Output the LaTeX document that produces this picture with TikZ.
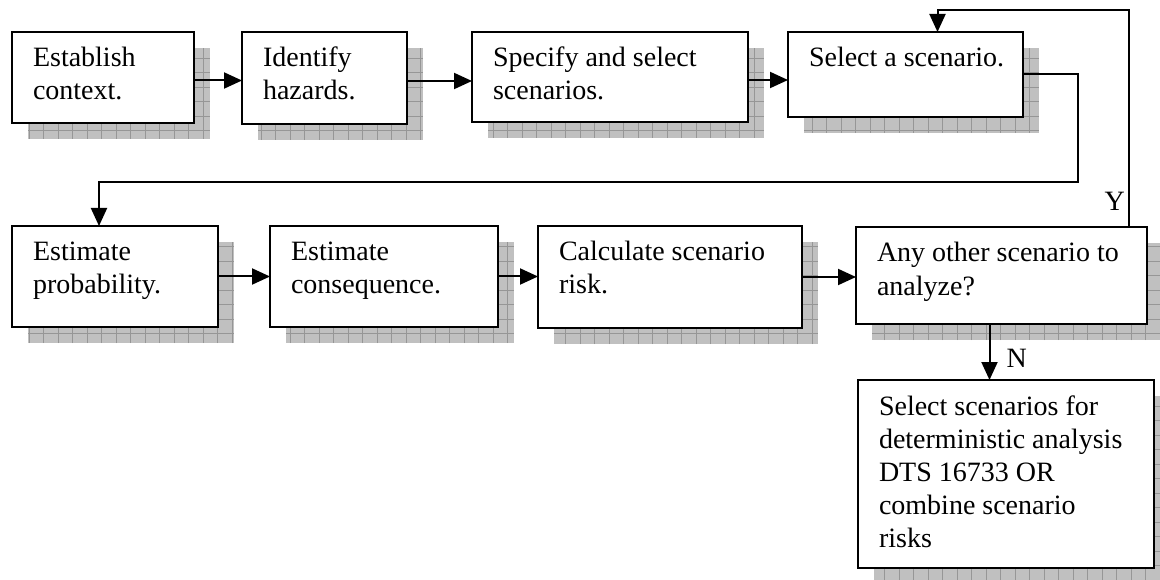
\documentclass[tikz,border=0pt]{standalone}
\usepackage{fontspec}
\setmainfont{Liberation Serif}
\usetikzlibrary{arrows.meta}
\pgfdeclarelayer{background}
\pgfsetlayers{background,main}
\definecolor{shadowgray}{RGB}{192,192,192}
\definecolor{gridgray}{RGB}{150,150,150}
% box text: width, height, text
\newcommand{\proctext}[3]{\hspace*{21pt}\parbox[t][#2][t]{\dimexpr#1-21pt\relax}{\raggedright\rule{0pt}{35pt}#3}}
\tikzset{
	procbox/.style={draw, line width=2.8pt, fill=white, anchor=north west, inner sep=0pt, outer sep=0pt, font=\fontsize{28}{33}\selectfont},
	conn/.style={line width=2pt, -{Triangle[length=18pt,width=16pt]}},
	answer/.style={inner sep=0pt, font=\fontsize{28}{33}\selectfont}
}
\begin{document}
\begin{tikzpicture}[x=1pt,y=-1pt]
	\useasboundingbox (0,0) rectangle (1160,580);
	% first row
	\node[procbox] (est)  at (12,32)  {\proctext{182pt}{91pt}{Establish\\context.}};
	\node[procbox] (haz)  at (242,32) {\proctext{165pt}{92pt}{Identify\\hazards.}};
	\node[procbox] (spec) at (472,32) {\proctext{276pt}{90pt}{Specify and select\\scenarios.}};
	\node[procbox] (sel)  at (788,32) {\proctext{235pt}{85pt}{Select a scenario.}};
	% second row
	\node[procbox] (prob)  at (12,226)  {\proctext{206pt}{101pt}{Estimate\\probability.}};
	\node[procbox] (cons)  at (270,226) {\proctext{228pt}{101pt}{Estimate\\consequence.}};
	\node[procbox] (risk)  at (538,226) {\proctext{264pt}{102pt}{Calculate scenario\\risk.}};
	\node[procbox] (other) at (856,227) {\proctext{291pt}{97pt}{Any other scenario to\\analyze?}};
	\node[procbox] (final) at (858,380) {\proctext{296pt}{188pt}{Select scenarios for\\deterministic analysis\\DTS 16733 OR\\combine scenario\\risks}};
	% grid shadows
	\begin{pgfonlayer}{background}
	\foreach \b in {est,haz,spec,sel,prob,cons,risk,other,final}{
		\begin{scope}
		\clip ([shift={(16pt,-16pt)}]\b.north west) rectangle ([shift={(16pt,-16pt)}]\b.south east);
		\fill[shadowgray] ([shift={(16pt,-16pt)}]\b.north west) rectangle ([shift={(16pt,-16pt)}]\b.south east);
		\draw[gridgray, line width=0.7pt, step=14.5pt] ([shift={(16pt,-16pt)}]\b.north west) grid ([shift={(16pt,-16pt)}]\b.south east);
		\end{scope}
	}
	\end{pgfonlayer}
	\coordinate (bend) at (1078,182);
	\coordinate (loop) at (1129,10);
	\draw[conn] ([yshift=-3pt]est.east) -- ([yshift=-3pt]est.east -| haz.west);
	\draw[conn] ([yshift=-3pt]haz.east) -- ([yshift=-3pt]haz.east -| spec.west);
	\draw[conn] ([yshift=-3pt]spec.east) -- ([yshift=-3pt]spec.east -| sel.west);
	\draw[conn] (sel.east) -| (bend) -| ([xshift=-16pt]prob.north);
	\draw[conn] (prob.east) -- (prob.east -| cons.west);
	\draw[conn] (cons.east) -- (cons.east -| risk.west);
	\draw[conn] (risk.east) -- (risk.east -| other.west);
	\draw[conn] ([xshift=-18pt]other.north east) -- (loop) -| ([xshift=32pt]sel.north);
	\draw[conn] ([xshift=-12pt]other.south) -- ([xshift=-12pt]other.south |- final.north);
	\path ([xshift=-18pt]other.north east) ++(-4,-16) node[answer, anchor=base east] (yes) {Y};
	\path ([xshift=-12pt]other.south) ++(17,43) node[answer, anchor=base west] (no) {N};
\end{tikzpicture}
\end{document}
